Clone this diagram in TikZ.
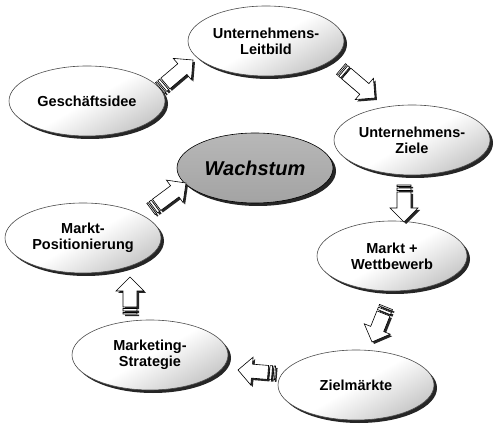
\documentclass[tikz,border=0pt]{standalone}
\usepackage{fontspec}
\setmainfont{Liberation Sans}
\usetikzlibrary{shapes.geometric,shadows,calc}

\begin{document}
\begin{tikzpicture}[x=1pt,y=-1pt,
  phase/.style={ellipse,draw=black!70,line width=0.6pt,top color=white,bottom color=black!22,middle color=white,shading angle=30,
    minimum width=156pt,minimum height=70pt,inner sep=0pt,align=center,
    font=\fontsize{14.5}{16}\selectfont\bfseries,
    general shadow={fill=black!85,shadow xshift=3pt,shadow yshift=-3pt}},
  goal/.style={phase,draw=black,top color=black!28,bottom color=black!36,middle color=black!32,
    font=\fontsize{20}{24}\selectfont\bfseries\itshape},
  pics/blockarrow/.style={code={
    \path[pic actions] (0,-7) rectangle (1.5,7) (3,-7) rectangle (5.5,7)
      (7,-7) -- ({#1-14},-7) -- ({#1-14},-14) -- (#1,0) -- ({#1-14},14) -- ({#1-14},7) -- (7,7) -- cycle;
  }}]
\useasboundingbox (0,0) rectangle (500,435);
\node[phase] (idee) at (87,101) {Gesch\"aftsidee};
\node[phase] (leitbild) at (266,41) {Unternehmens-\\Leitbild};
\node[phase] (ziele) at (412,140) {Unternehmens-\\Ziele};
\node[goal] (wachstum) at (255,168) {Wachstum};
\node[phase] (position) at (83,238) {Markt-\\Positionierung};
\node[phase,minimum width=150pt] (markt) at (392,256) {Markt +\\Wettbewerb};
\node[phase] (strategie) at (150,355) {Marketing-\\Strategie};
\node[phase] (zielmaerkte) at (356,385) {Zielm\"arkte};

\coordinate (t1) at (160,88);  \coordinate (h1) at (193,60);
\coordinate (t2) at (341,69);  \coordinate (h2) at (375,98);
\coordinate (t3) at (404,185); \coordinate (h3) at (404,222);
\coordinate (t4) at (386,307); \coordinate (h4) at (372,342);
\coordinate (t5) at (275,373); \coordinate (h5) at (238,370);
\coordinate (t6) at (130,314); \coordinate (h6) at (130,277);
\coordinate (t7) at (151,209); \coordinate (h7) at (186,183);
\foreach \i in {1,...,7}
  \path let \p1=($(h\i)-(t\i)$), \n1={atan2(\y1,\x1)}, \n2={veclen(\x1,\y1)} in
    ($(t\i)+(2pt,-2pt)$) pic[rotate=\n1,fill=black!85]{blockarrow=\n2}
    (t\i) pic[rotate=\n1,draw,fill=white,line width=0.6pt]{blockarrow=\n2};
\end{tikzpicture}
\end{document}
